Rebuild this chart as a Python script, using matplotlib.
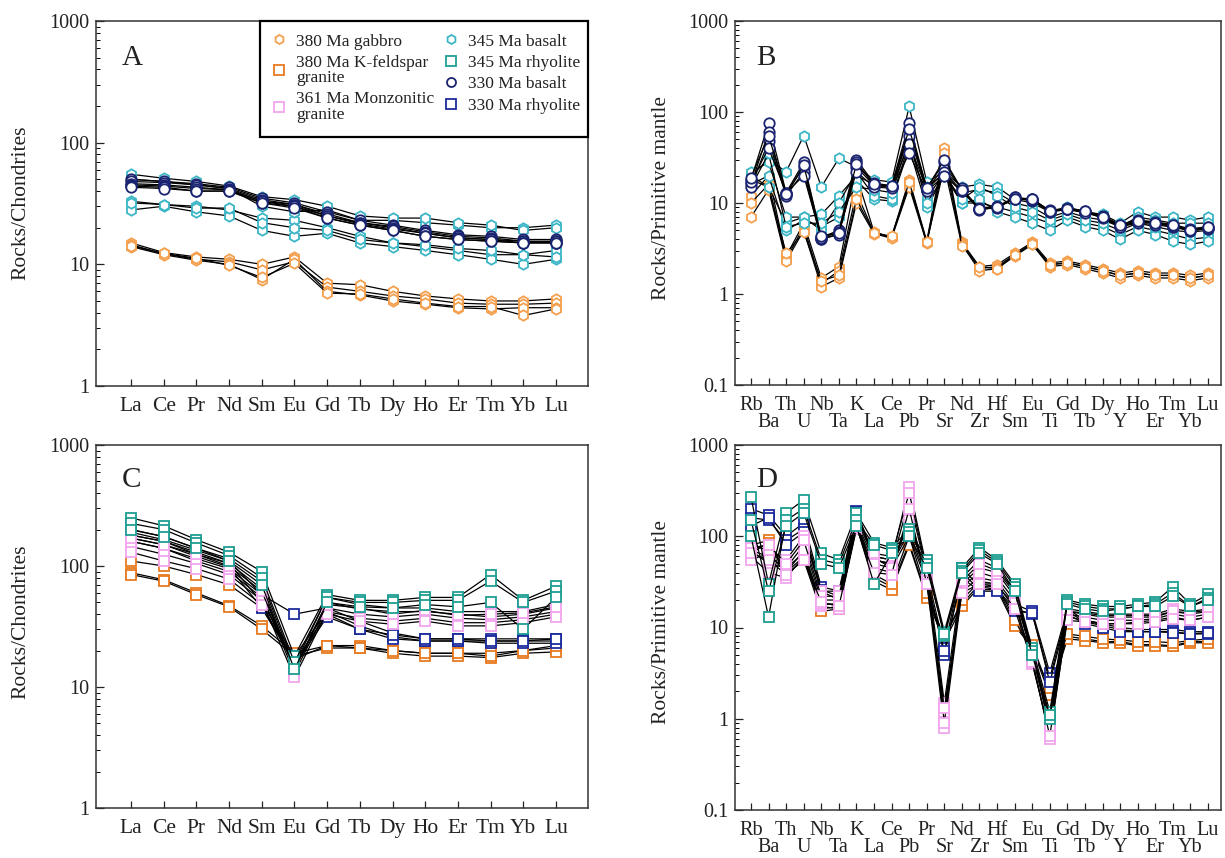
import numpy as np
import matplotlib
matplotlib.use("Agg")
import matplotlib.pyplot as plt
from matplotlib.lines import Line2D
from matplotlib.patches import Rectangle
from matplotlib.ticker import FixedLocator, LogLocator, NullFormatter

plt.rcParams['font.family'] = ['Liberation Serif', 'DejaVu Serif']

# element lists
ree = ['La', 'Ce', 'Pr', 'Nd', 'Sm', 'Eu', 'Gd', 'Tb', 'Dy', 'Ho', 'Er', 'Tm', 'Yb', 'Lu']
spider = ['Rb', 'Ba', 'Th', 'U', 'Nb', 'Ta', 'K', 'La', 'Ce', 'Pb', 'Pr', 'Sr', 'Nd', 'Zr',
          'Hf', 'Sm', 'Eu', 'Ti', 'Gd', 'Tb', 'Dy', 'Y', 'Ho', 'Er', 'Tm', 'Yb', 'Lu']

# ---- panel A: chondrite normalised REE, mafic rocks
ree_gabbro = [
    [15.0, 12.5, 11.5, 11.0, 10.0, 11.5, 7.0, 6.8, 6.0, 5.5, 5.2, 5.0, 5.0, 5.2],
    [14.5, 12.2, 11.0, 10.5, 9.0, 10.5, 6.5, 6.0, 5.5, 5.2, 4.8, 4.7, 4.7, 4.8],
    [14.0, 12.0, 10.8, 10.0, 7.5, 11.0, 6.0, 5.6, 5.0, 4.7, 4.4, 4.3, 4.4, 4.4],
    [14.2, 12.3, 11.2, 9.8, 7.8, 10.2, 5.8, 5.7, 5.2, 4.8, 4.5, 4.5, 3.8, 4.3],
]
ree_basalt345 = [
    [33, 31, 30, 28, 24, 23, 20, 17, 15, 14, 13, 12, 12, 13],
    [28, 30, 27, 25, 19, 17, 18, 15, 14, 13, 12, 11, 10, 11],
    [32, 31, 29, 29, 22, 20, 19, 16, 15, 14.5, 13.5, 13, 12, 11.5],
    [50, 48, 45, 42, 30, 27, 28, 23, 23, 22, 21, 20, 20, 21],
    [55, 51, 48, 44, 36, 34, 30, 25, 24, 24, 22, 21, 19, 20],
]
ree_basalt330 = [
    [50, 48, 46, 43, 35, 32, 27, 23, 21, 19, 17.5, 17, 16, 16],
    [48, 47, 45, 42, 34, 31, 26, 22, 20.5, 18.5, 17, 16.5, 15.5, 15.5],
    [46, 45, 43, 41, 33, 31, 25, 22, 20, 18, 16.5, 16, 15.5, 15],
    [45, 44, 42, 41, 33, 30, 25, 21.5, 19.5, 18, 16.5, 16, 15, 15.5],
    [44, 43, 40, 40, 32, 30, 24, 21, 19, 17, 16, 15.5, 15, 15],
    [43, 42, 40, 40, 32, 29, 24, 21, 19, 17, 16, 15.5, 15, 15],
]

# ---- panel B: primitive mantle normalised, mafic rocks
pm_gabbro = [
    [12, 20, 2.6, 6.0, 1.5, 2.0, 20, 4.8, 4.2, 18, 3.8, 40, 3.7, 2.0, 2.1, 2.8, 3.7, 2.2, 2.3, 2.1, 1.9, 1.7, 1.8, 1.7, 1.7, 1.6, 1.7],
    [10, 16, 2.4, 5.5, 1.3, 1.8, 13, 4.7, 4.2, 16, 3.7, 35, 3.6, 1.9, 2.0, 2.7, 3.6, 2.1, 2.2, 2.0, 1.8, 1.6, 1.7, 1.6, 1.6, 1.5, 1.6],
    [7, 14, 2.3, 5.0, 1.2, 1.5, 10, 4.6, 4.1, 15, 3.6, 30, 3.5, 1.8, 1.9, 2.6, 3.5, 2.0, 2.1, 1.9, 1.7, 1.5, 1.6, 1.5, 1.5, 1.4, 1.5],
    [20, 15, 2.8, 4.8, 1.4, 1.6, 11, 4.7, 4.3, 17, 3.7, 25, 3.4, 2.0, 1.9, 2.7, 3.5, 2.1, 2.2, 2.0, 1.8, 1.6, 1.7, 1.6, 1.6, 1.5, 1.6],
]
pm_basalt345 = [
    [20, 30, 22, 55, 15, 31, 25, 18, 17, 115, 17, 22, 15, 16, 15, 11, 10, 8, 9, 8, 7.5, 6, 8, 7, 7, 6.5, 7],
    [18, 15, 6, 7, 7.5, 12, 20, 16, 15, 60, 15, 21, 13, 14, 13, 10, 9, 7, 8, 7, 6.5, 5.5, 7, 6.5, 6, 6, 6],
    [16, 20, 5, 6.5, 5.5, 7, 18, 11, 10.5, 40, 9, 20, 10, 10, 9, 8, 7, 6, 7, 6, 5.5, 4.5, 5.5, 5, 4.5, 4, 4.2],
    [22, 28, 7, 7, 5, 10, 22, 12, 11, 45, 11, 22, 10, 11, 8, 7, 6, 5, 6.5, 5.5, 5, 4, 5, 4.5, 3.8, 3.5, 3.8],
    [15, 35, 5.5, 6, 6, 8, 15, 14, 13, 50, 10, 20, 11, 15, 12, 9, 8, 6.5, 7.5, 6.5, 6, 5, 6, 5.5, 5, 4.8, 5],
]
pm_basalt330 = [
    [18, 75, 13, 28, 4.2, 5.0, 30, 16.5, 15.5, 75, 14.5, 28, 14, 8.8, 9.2, 11.5, 11, 8.3, 8.8, 8.2, 7.2, 5.8, 6.5, 6.2, 5.8, 5.2, 5.5],
    [16, 60, 12.5, 25, 4.0, 4.6, 28, 16, 15, 55, 14, 25, 14.5, 8.5, 9, 11, 11, 8, 8.5, 8, 7, 5.6, 6.2, 6, 5.5, 5, 5.3],
    [15, 48, 12, 22, 4.0, 4.5, 25, 15.5, 15, 45, 14, 22, 13.5, 8.6, 8.8, 11.5, 10.5, 8.2, 8.6, 8, 6.8, 5.5, 6, 5.8, 5.4, 5, 5.2],
    [17, 40, 13, 20, 4.1, 4.8, 22, 15, 14.5, 35, 13.5, 20, 13.5, 8.4, 9, 11, 10.8, 8, 8.5, 7.8, 7, 5.4, 6.3, 6, 5.6, 4.9, 5.3],
    [19, 55, 12.5, 26, 4.3, 4.7, 27, 16, 15.5, 65, 14.5, 30, 14, 8.7, 9.1, 11.2, 11.2, 8.1, 8.7, 8.1, 7.1, 5.7, 6.4, 6.1, 5.7, 5.1, 5.4],
]

# ---- panel C: chondrite normalised REE, felsic rocks
ree_kfs = [
    [88, 77, 60, 47, 32, 19, 22, 22, 20, 19, 19, 19, 20, 21],
    [85, 75, 58, 46, 30, 18, 21, 21, 19, 18, 18, 17.5, 19, 19.5],
    [110, 100, 85, 70, 45, 17, 22, 21, 20, 19, 19, 18, 20, 22],
]
ree_monz = [
    [200, 175, 140, 115, 75, 15, 55, 48, 45, 45, 42, 42, 42, 48],
    [180, 160, 130, 105, 65, 14, 50, 44, 42, 42, 40, 38, 40, 45],
    [160, 140, 115, 95, 58, 13, 45, 40, 38, 40, 37, 36, 38, 42],
    [145, 125, 105, 85, 52, 12, 42, 37, 35, 37, 34, 34, 36, 40],
    [130, 110, 95, 78, 48, 16, 40, 35, 33, 35, 32, 32, 34, 38],
    [170, 150, 125, 100, 62, 14, 48, 45, 40, 43, 39, 40, 41, 46],
]
ree_rhy345 = [
    [250, 215, 165, 130, 90, 18, 58, 52, 52, 55, 55, 85, 52, 68],
    [225, 200, 155, 122, 80, 16, 55, 50, 50, 52, 52, 75, 50, 62],
    [200, 175, 140, 110, 70, 14, 50, 46, 45, 48, 46, 50, 30, 55],
]
ree_rhy330 = [
    [190, 165, 135, 110, 58, 40, 45, 35, 28, 25, 25, 25, 25, 25],
    [180, 160, 125, 105, 50, 18, 42, 32, 26, 24, 24, 24, 24, 24],
    [170, 150, 120, 98, 45, 16, 40, 30, 25, 24, 24, 23, 23, 23],
    [160, 140, 110, 90, 55, 15, 38, 30, 27, 25, 25, 24, 24, 25],
]

# ---- panel D: primitive mantle normalised, felsic rocks
pm_kfs = [
    [80, 90, 40, 60, 16, 17, 140, 35, 28, 85, 22, 8, 18, 30, 28, 11, 6.5, 2.0, 8, 7.5, 7, 7, 6.5, 6.5, 6.3, 7, 7],
    [65, 85, 38, 55, 15, 16, 130, 32, 26, 80, 21, 7, 17, 28, 26, 10.5, 6, 1.8, 7.5, 7.2, 6.8, 6.8, 6.3, 6.3, 6.2, 6.8, 6.8],
    [70, 60, 45, 65, 18, 18, 150, 38, 30, 100, 24, 7.5, 20, 32, 30, 12, 5.5, 2.2, 8.5, 8, 7.5, 7.3, 7, 7, 6.8, 7.2, 7.5],
]
pm_monz = [
    [80, 70, 55, 100, 25, 25, 150, 60, 55, 350, 45, 1.5, 35, 55, 45, 25, 6, 0.9, 16, 15, 14, 14, 14, 14, 16, 15, 16],
    [70, 50, 45, 80, 20, 20, 140, 55, 50, 250, 40, 1.0, 30, 45, 40, 22, 5, 0.8, 15, 14, 13, 13, 13, 13, 15, 14, 15],
    [60, 40, 35, 60, 17, 16, 120, 45, 40, 180, 32, 0.8, 25, 35, 32, 18, 4.5, 0.6, 13, 12, 11, 11, 11.5, 12, 13, 12, 13],
    [55, 65, 40, 70, 18, 18, 130, 50, 45, 150, 35, 1.2, 28, 40, 35, 20, 4, 0.7, 14, 13, 12, 12, 12, 12.5, 14, 13, 14],
    [75, 80, 50, 90, 22, 22, 160, 65, 60, 300, 42, 0.9, 32, 50, 42, 24, 5.5, 0.8, 15, 14.5, 13.5, 13.5, 13.5, 13.5, 15, 14.5, 15.5],
    [65, 55, 38, 55, 19, 17, 125, 40, 38, 200, 30, 1.3, 24, 30, 30, 16, 4.2, 0.65, 12, 11.5, 11, 11, 11, 11.5, 12.5, 12, 13],
]
pm_rhy345 = [
    [270, 30, 180, 250, 65, 55, 180, 85, 75, 120, 55, 9, 45, 75, 55, 30, 6, 1.2, 20, 18, 17, 17, 18, 19, 28, 18, 23],
    [100, 13, 150, 200, 55, 50, 150, 80, 70, 110, 50, 8, 42, 70, 52, 28, 5.5, 1.0, 19, 17, 16, 16, 17, 18, 24, 17, 21],
    [150, 25, 130, 180, 50, 45, 130, 30, 65, 100, 45, 8.5, 40, 65, 50, 25, 5, 1.1, 18, 16, 15, 16, 17, 17, 22, 17, 20],
]
pm_rhy330 = [
    [200, 170, 100, 140, 28, 25, 190, 60, 55, 130, 40, 6, 45, 28, 28, 18, 15, 3.2, 16, 12, 11, 10, 9.5, 9.5, 9.5, 9, 9],
    [160, 150, 90, 120, 26, 22, 185, 55, 50, 110, 35, 5, 40, 26, 26, 16, 14, 2.8, 15, 11.5, 10.5, 9.5, 9, 9, 9, 8.5, 8.5],
    [130, 160, 80, 110, 25, 20, 180, 58, 45, 100, 32, 5.5, 35, 25, 25, 15, 14.5, 2.5, 14, 11, 10, 9, 9, 9, 8.8, 8.5, 8.8],
]

# colours
c_gabbro = '#F4A04E'
c_kfs = '#E87B22'
c_monz = '#F2A6EE'
c_bas345 = '#3CB6C6'
c_rhy345 = '#1E9E92'
c_bas330 = '#1B2470'
c_rhy330 = '#1C2C9E'
txt = '#222222'

fig = plt.figure(figsize=(12.25, 8.58), dpi=100)
W, H = 1225, 858


def make_ax(l, r, t, b):
    return fig.add_axes([l / W, 1 - b / H, (r - l) / W, (b - t) / H])


axA = make_ax(96, 588, 21, 386)
axB = make_ax(735, 1221, 21, 385)
axC = make_ax(96, 588, 445, 808)
axD = make_ax(735, 1221, 445, 810)


def draw(ax, groups):
    for samples, col, mk in groups:
        for s in samples:
            ax.plot(range(len(s)), s, color='black', lw=0.9, marker=mk, ms=7.5,
                    mfc='white', mec=col, mew=1.3, zorder=3)


draw(axA, [(ree_gabbro, c_gabbro, 'h'), (ree_basalt345, c_bas345, 'h'), (ree_basalt330, c_bas330, 'o')])
draw(axB, [(pm_gabbro, c_gabbro, 'h'), (pm_basalt345, c_bas345, 'h'), (pm_basalt330, c_bas330, 'o')])
draw(axC, [(ree_kfs, c_kfs, 's'), (ree_rhy330, c_rhy330, 's'), (ree_monz, c_monz, 's'), (ree_rhy345, c_rhy345, 's')])
draw(axD, [(pm_kfs, c_kfs, 's'), (pm_rhy330, c_rhy330, 's'), (pm_monz, c_monz, 's'), (pm_rhy345, c_rhy345, 's')])


def style(ax, names, ylo, yticks, ylabels, xlim, fs, two_rows):
    ax.set_yscale('log')
    ax.set_ylim(ylo, 1000)
    ax.set_xlim(*xlim)
    ax.yaxis.set_major_locator(FixedLocator(yticks))
    ax.yaxis.set_minor_locator(LogLocator(base=10, subs=np.arange(2, 10)))
    ax.yaxis.set_minor_formatter(NullFormatter())
    ax.set_yticklabels(ylabels)
    if two_rows:
        # upper row on major ticks, lower row on minor ticks
        ax.set_xticks(range(0, len(names), 2))
        ax.set_xticklabels(names[0::2])
        ax.set_xticks(range(1, len(names), 2), minor=True)
        ax.set_xticklabels(names[1::2], minor=True)
        ax.tick_params(axis='x', which='minor', direction='in', length=5, width=0.9,
                       labelsize=fs, pad=20.5, colors=txt)
    else:
        ax.set_xticks(range(len(names)))
        ax.set_xticklabels(names)
    ax.tick_params(axis='x', which='major', direction='in', length=5, width=0.9, labelsize=fs, pad=8, colors=txt)
    ax.tick_params(axis='y', which='major', direction='in', length=6, width=0.9, labelsize=14.5, pad=5, colors=txt)
    ax.tick_params(axis='y', which='minor', direction='in', length=3, width=0.7)
    for sp in ax.spines.values():
        sp.set_linewidth(1.1)
        sp.set_color('#333333')


style(axA, ree, 1, [1, 10, 100, 1000], ['1', '10', '100', '1000'], (-1.07, 13.98), 15.5, False)
style(axC, ree, 1, [1, 10, 100, 1000], ['1', '10', '100', '1000'], (-1.07, 13.98), 15.5, False)
style(axB, spider, 0.1, [0.1, 1, 10, 100, 1000], ['0.1', '1', '10', '100', '1000'], (-0.91, 26.74), 14.5, True)
style(axD, spider, 0.1, [0.1, 1, 10, 100, 1000], ['0.1', '1', '10', '100', '1000'], (-0.91, 26.74), 14.5, True)

# panel letters
for ax, letter, x, y in [(axA, 'A', 0.053, 0.88), (axB, 'B', 0.043, 0.88),
                         (axC, 'C', 0.053, 0.885), (axD, 'D', 0.043, 0.885)]:
    ax.text(x, y, letter, transform=ax.transAxes, fontsize=21, color=txt, va='baseline')

# y labels
fig.text(21 / W, 1 - 203 / H, 'Rocks/Chondrites', rotation=90, ha='center', va='center', fontsize=15.5, color=txt)
fig.text(21 / W, 1 - 622 / H, 'Rocks/Chondrites', rotation=90, ha='center', va='center', fontsize=15.5, color=txt)
fig.text(662 / W, 1 - 198 / H, 'Rocks/Primitive mantle', rotation=90, ha='center', va='center', fontsize=15.5, color=txt)
fig.text(662 / W, 1 - 622 / H, 'Rocks/Primitive mantle', rotation=90, ha='center', va='center', fontsize=15.5, color=txt)


# legend: two frameless columns inside one black box
def h(col, mk):
    return Line2D([], [], ls='none', marker=mk, ms=6.5, mfc='white', mec=col, mew=1.3)


left_handles = [h(c_gabbro, 'h'), h(c_kfs, 's'), h(c_monz, 's')]
left_labels = ['380 Ma gabbro', '380 Ma K-feldspar\ngranite', '361 Ma Monzonitic\ngranite']
right_handles = [h(c_bas345, 'h'), h(c_rhy345, 's'), h(c_bas330, 'o'), h(c_rhy330, 's')]
right_labels = ['345 Ma basalt', '345 Ma rhyolite', '330 Ma basalt', '330 Ma rhyolite']

leg_kw = dict(loc='upper left', fontsize=12.5, frameon=False, borderpad=0, borderaxespad=0,
              handlelength=1.0, handletextpad=0.45, labelspacing=0.3)
legL = axA.legend(left_handles, left_labels, bbox_to_anchor=(0.355, 0.966), **leg_kw)
for t in legL.get_texts():
    t.set_color(txt)
    t.set_linespacing(0.95)
axA.add_artist(legL)
legR = axA.legend(right_handles, right_labels, bbox_to_anchor=(0.704, 0.966), **leg_kw)
for t in legR.get_texts():
    t.set_color(txt)
axA.add_patch(Rectangle((0.333, 0.682), 0.667, 0.318, transform=axA.transAxes, fill=False,
                        edgecolor='black', lw=1.6, zorder=5, clip_on=False))

fig.savefig('out.png', dpi=100)
